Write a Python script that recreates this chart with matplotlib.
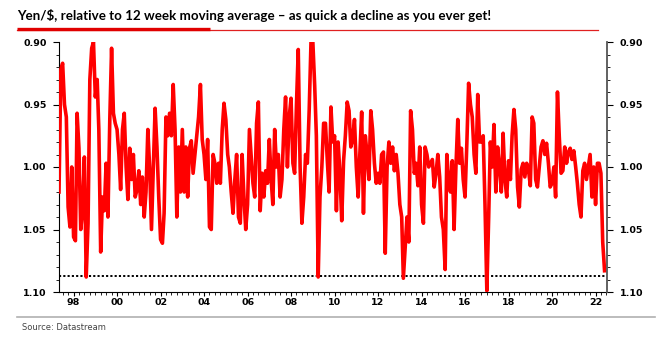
import matplotlib
matplotlib.use("Agg")
import matplotlib.pyplot as plt
import matplotlib.dates as mdates
import matplotlib.ticker as ticker
from matplotlib.lines import Line2D
import pandas as pd

titulo = "Yen/$, relative to 12 week moving average \u2013 as quick a decline as you ever get!"
fonte = "Source: Datastream"

# Yen/$ dividido pela media movel de 12 semanas, amostra mensal a partir de mai/1997
inicio = "1997-05-01"
ratio = [
    1.020, 0.922, 0.917, 0.950, 0.960, 1.032, 1.048, 1.000, 1.056, 1.059, 0.957, 0.985,
    1.050, 1.035, 0.992, 1.088, 1.045, 0.930, 0.905, 0.900, 0.944, 0.930, 0.970, 1.068,
    1.024, 1.035, 0.997, 1.040, 0.962, 0.905, 0.957, 0.965, 0.970, 0.990, 1.018, 0.970,
    0.957, 1.000, 1.026, 0.985, 1.010, 0.990, 1.024, 1.018, 1.003, 1.030, 1.008, 1.040,
    1.020, 0.970, 1.000, 1.050, 1.000, 0.953, 0.984, 1.024, 1.058, 1.061, 1.037, 0.960,
    0.975, 0.957, 0.975, 0.934, 0.970, 1.040, 0.984, 1.020, 0.970, 1.020, 0.984, 1.024,
    0.985, 0.979, 1.005, 0.990, 0.975, 0.960, 0.934, 0.978, 0.990, 1.010, 0.978, 1.048,
    1.050, 0.990, 0.997, 1.013, 0.997, 1.013, 0.970, 0.949, 0.962, 0.990, 1.000, 1.020,
    1.037, 1.010, 0.990, 1.040, 1.045, 0.990, 1.024, 1.050, 1.030, 0.970, 0.990, 1.013,
    1.024, 0.965, 0.948, 1.035, 1.005, 1.024, 1.003, 1.013, 0.978, 1.010, 1.030, 0.970,
    1.000, 0.990, 1.024, 1.010, 0.970, 0.944, 1.000, 0.960, 0.945, 0.997, 1.005, 0.950,
    0.906, 1.000, 1.045, 1.024, 0.990, 0.997, 0.954, 0.900, 0.900, 0.935, 0.975, 1.088,
    1.024, 1.000, 0.965, 0.965, 0.995, 1.020, 0.952, 0.980, 0.975, 1.035, 0.980, 1.005,
    1.043, 0.995, 0.975, 0.948, 0.955, 0.984, 0.978, 0.962, 1.000, 1.024, 0.990, 0.956,
    1.037, 0.975, 0.990, 1.010, 0.955, 0.970, 0.997, 1.013, 1.005, 1.013, 0.990, 0.988,
    1.069, 1.000, 0.980, 0.997, 0.984, 1.003, 0.990, 1.005, 1.030, 1.040, 1.089, 1.064,
    1.040, 1.060, 0.955, 0.970, 1.005, 0.997, 1.015, 0.984, 1.030, 1.045, 0.984, 0.990,
    1.000, 0.997, 0.994, 1.016, 1.005, 0.990, 1.008, 1.040, 1.050, 1.082, 0.990, 1.010,
    1.020, 0.995, 1.050, 1.000, 0.962, 0.997, 0.985, 1.010, 1.024, 0.980, 0.933, 0.950,
    0.960, 0.990, 1.005, 0.942, 0.980, 0.980, 0.975, 1.030, 1.099, 1.040, 0.980, 1.000,
    0.966, 1.020, 0.984, 1.000, 1.020, 0.973, 1.010, 1.024, 0.995, 1.010, 0.975, 0.954,
    0.970, 1.016, 1.032, 1.002, 0.997, 1.008, 0.997, 1.002, 1.015, 0.960, 0.965, 1.010,
    1.016, 1.000, 0.984, 0.979, 0.990, 0.981, 0.997, 1.016, 1.013, 1.000, 1.024, 0.940,
    0.975, 1.005, 1.003, 0.984, 0.997, 0.988, 0.985, 0.994, 0.987, 1.000, 1.013, 1.030,
    1.040, 1.003, 0.997, 1.010, 1.000, 0.990, 1.024, 1.000, 1.030, 0.997, 0.997, 1.005,
    1.060, 1.083,
]
nivel_pontilhado = 1.087
y_ticks = [0.90, 0.95, 1.00, 1.05, 1.10]
x_min, x_max = "1997-05-01", "2022-07-12"

datas = pd.date_range(inicio, periods=len(ratio), freq="MS")

W, H = 670, 344
fig = plt.figure(figsize=(W / 100, H / 100), dpi=100)
ax = fig.add_axes([59 / W, 52 / H, 548 / W, 250 / H])

ax.plot(datas, ratio, color="#ff0000", lw=2.6, zorder=3)
ax.hlines(nivel_pontilhado, datas[0], datas[-1], colors="black",
          linestyles=(0, (1.1, 1.1)), lw=1.4, zorder=2)

ax.set_xlim(pd.Timestamp(x_min), pd.Timestamp(x_max))
ax.set_ylim(max(y_ticks), min(y_ticks))

fonte_ticks = dict(family="DejaVu Sans", size=6.8, weight="bold")

# eixo y esquerdo e direito
ax.set_yticks(y_ticks)
ax.yaxis.set_major_formatter(ticker.FormatStrFormatter("%.2f"))
ax.yaxis.set_minor_locator(ticker.MultipleLocator(0.01))
ax2 = ax.twinx()
ax2.set_ylim(ax.get_ylim())
ax2.set_yticks(y_ticks)
ax2.yaxis.set_major_formatter(ticker.FormatStrFormatter("%.2f"))
ax2.yaxis.set_minor_locator(ticker.MultipleLocator(0.01))

for a in (ax, ax2):
    a.tick_params(axis="y", which="major", length=4, width=0.8, pad=5, colors="black")
    a.tick_params(axis="y", which="minor", length=2.5, width=0.6)
    for lbl in a.get_yticklabels():
        lbl.set(**fonte_ticks)

# eixo x: rotulos a cada 2 anos, marcas trimestrais
ax.xaxis.set_major_locator(mdates.YearLocator(2))
ax.xaxis.set_major_formatter(mdates.DateFormatter("%y"))
ax.xaxis.set_minor_locator(mdates.MonthLocator(bymonth=[1, 4, 7, 10]))
ax.tick_params(axis="x", which="major", length=3, width=0.8, pad=1.5)
ax.tick_params(axis="x", which="minor", length=2, width=0.6)
for lbl in ax.get_xticklabels():
    lbl.set(**fonte_ticks)

for a in (ax, ax2):
    a.spines["top"].set_visible(False)
ax.spines["right"].set_visible(False)
ax.spines["left"].set_color("black")
ax.spines["bottom"].set_color("black")
ax2.spines["left"].set_visible(False)
ax2.spines["bottom"].set_visible(False)
ax2.spines["right"].set_color("#555555")
ax2.spines["right"].set_linewidth(1.3)

# titulo com sublinhado vermelho
fig.text(17 / W, 1 - 15 / H, titulo, family="Lato", weight="bold", size=9.6,
         va="center", ha="left", color="black")
fig.add_artist(Line2D([17 / W, 598 / W], [1 - 29.5 / H] * 2, color="#e02020", lw=0.9,
                      transform=fig.transFigure))
fig.add_artist(Line2D([17 / W, 210 / W], [1 - 29 / H] * 2, color="#e00000", lw=2.4,
                      transform=fig.transFigure, solid_capstyle="butt"))

# rodape
fig.add_artist(Line2D([17 / W, 655 / W], [1 - 317 / H] * 2, color="#b0b0b0", lw=1.2,
                      transform=fig.transFigure))
fig.text(22 / W, 1 - 327 / H, fonte, family="DejaVu Sans", size=6, color="#444444",
         va="center", ha="left")

plt.savefig("out.png", dpi=100)
